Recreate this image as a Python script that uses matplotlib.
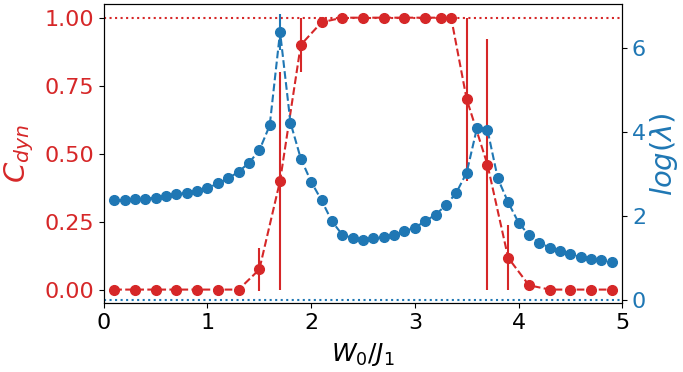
import matplotlib
matplotlib.use("Agg")
import matplotlib.pyplot as plt
import numpy as np

# red series: C_dyn
x_c = [0.1, 0.3, 0.5, 0.7, 0.9, 1.1, 1.3, 1.5, 1.7, 1.9, 2.1, 2.3, 2.5, 2.7, 2.9,
       3.1, 3.25, 3.35, 3.5, 3.7, 3.9, 4.1, 4.3, 4.5, 4.7, 4.9]
c_dyn = [0.0, 0.0, 0.0, 0.0, 0.0, 0.0, 0.0, 0.074, 0.40, 0.90, 0.983, 1.0, 1.0, 1.0, 1.0,
         1.0, 1.0, 1.0, 0.70, 0.46, 0.117, 0.016, 0.0, 0.0, 0.0, 0.0]
c_err = [0, 0, 0, 0, 0, 0, 0, 0.078, 0.40, 0.10, 0, 0, 0, 0, 0,
         0, 0, 0, 0.30, 0.46, 0.12, 0, 0, 0, 0, 0]

# blue series: log(lambda)
x_l = [0.1, 0.2, 0.3, 0.4, 0.5, 0.6, 0.7, 0.8, 0.9, 1.0, 1.1, 1.2, 1.3, 1.4, 1.5, 1.6,
       1.7, 1.8, 1.9, 2.0, 2.1, 2.2, 2.3, 2.4, 2.5, 2.6, 2.7, 2.8, 2.9, 3.0, 3.1, 3.2,
       3.3, 3.4, 3.5, 3.6, 3.7, 3.8, 3.9, 4.0, 4.1, 4.2, 4.3, 4.4, 4.5, 4.6, 4.7, 4.8, 4.9]
log_lam = [2.38, 2.38, 2.40, 2.42, 2.44, 2.48, 2.52, 2.56, 2.61, 2.67, 2.78, 2.90, 3.06,
           3.27, 3.57, 4.16, 6.39, 4.23, 3.37, 2.82, 2.38, 1.88, 1.56, 1.48, 1.44, 1.47,
           1.50, 1.56, 1.64, 1.73, 1.88, 2.04, 2.26, 2.56, 3.04, 4.11, 4.06, 2.90, 2.33,
           1.85, 1.55, 1.37, 1.25, 1.17, 1.09, 1.03, 0.98, 0.95, 0.90]
lam_err = [0.0] * len(x_l)
lam_err[16] = 0.43

fig = plt.figure(figsize=(6.83, 3.72), dpi=100)
ax1 = fig.add_axes([0.152, 0.185, 0.759, 0.804])

#eje izquierdo
ax1.errorbar(x_c, c_dyn, yerr=c_err, fmt='o--', color='tab:red', ms=7, lw=1.5,
             elinewidth=1.5, capsize=0)
ax1.axhline(1.0, color='tab:red', ls=':', lw=1.5)
ax1.set_xlim(0, 5)
ax1.set_ylim(-0.05, 1.05)
ax1.set_yticks([0, 0.25, 0.5, 0.75, 1.0])
ax1.set_yticklabels(['0.00', '0.25', '0.50', '0.75', '1.00'])
ax1.tick_params(axis='y', labelcolor='tab:red', labelsize=16)
ax1.tick_params(axis='x', labelsize=16)
ax1.set_xlabel(r'$W_0/J_1$', fontsize=18, labelpad=6)
ax1.set_ylabel(r'$C_{dyn}$', color='tab:red', fontsize=21, labelpad=6)

#eje derecho
ax2 = ax1.twinx()
ax2.errorbar(x_l, log_lam, yerr=lam_err, fmt='o--', color='tab:blue', ms=7, lw=1.5,
             elinewidth=1.5, capsize=0)
ax2.axhline(0.0, color='tab:blue', ls=':', lw=1.5)
ax2.set_ylim(-0.07, 7.05)
ax2.set_yticks([0, 2, 4, 6])
ax2.tick_params(axis='y', labelcolor='tab:blue', labelsize=16)
ax2.set_ylabel(r'$log(\lambda)$', color='tab:blue', fontsize=21, labelpad=1)

plt.savefig('out.png', dpi=100)
